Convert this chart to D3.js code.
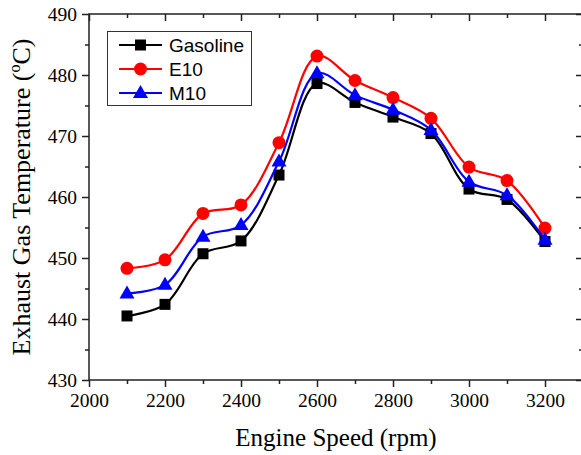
<!DOCTYPE html>
<html><head><meta charset="utf-8">
<script src="https://cdn.jsdelivr.net/npm/d3@7"></script>
<style>html,body{margin:0;padding:0;background:#fff;}svg{display:block;}</style>
</head><body>
<script>
const speeds = [2100,2200,2300,2400,2500,2600,2700,2800,2900,3000,3100,3200];
const gasoline = [440.5,442.4,450.7,452.8,463.6,478.6,475.5,473.1,470.4,461.3,459.6,452.7];
const e10 = [448.3,449.7,457.3,458.7,468.9,483.1,479.1,476.3,472.9,464.9,462.7,454.9];
const m10 = [444.2,445.6,453.5,455.4,465.8,480.3,476.7,474.3,471.0,462.5,460.3,453.0];
const xMajor = [2000,2200,2400,2600,2800,3000,3200];
const xMinor = [2100,2300,2500,2700,2900,3100,3300];
const yMajor = [430,440,450,460,470,480,490];
const yMinor = [435,445,455,465,475,485];
const seriesNames = ["Gasoline","E10","M10"];
const seriesColors = ["#000000","#ff0000","#0000ff"];
const seriesShapes = ["square","circle","triangle"];

const W = 581, H = 455;
const L = 89, R = 583, T = 14, B = 380;
const svg = d3.select("body").append("svg").attr("width", W).attr("height", H);
const x = d3.scaleLinear().domain([2000,3300]).range([L,R]);
const y = d3.scaleLinear().domain([430,490]).range([B,T]);

const axisColor = "#222";
function styleAxis(g){ g.selectAll("path,line").attr("stroke",axisColor).attr("stroke-width",1.5); g.select(".domain").remove(); }

// minor ticks
svg.append("g").attr("transform",`translate(0,${B})`).call(d3.axisBottom(x).tickValues(xMinor).tickSize(4).tickFormat("")).call(styleAxis);
svg.append("g").attr("transform",`translate(0,${T})`).call(d3.axisTop(x).tickValues(xMinor).tickSize(-4).tickFormat("")).call(styleAxis);
svg.append("g").attr("transform",`translate(${L},0)`).call(d3.axisLeft(y).tickValues(yMinor).tickSize(4).tickFormat("")).call(styleAxis);
svg.append("g").attr("transform",`translate(${R},0)`).call(d3.axisRight(y).tickValues(yMinor).tickSize(-4).tickFormat("")).call(styleAxis);
// major ticks
svg.append("g").attr("transform",`translate(0,${B})`).call(d3.axisBottom(x).tickValues(xMajor).tickSize(7).tickPadding(6).tickFormat(d3.format("d"))).call(styleAxis);
svg.append("g").attr("transform",`translate(0,${T})`).call(d3.axisTop(x).tickValues(xMajor).tickSize(-7).tickFormat("")).call(styleAxis);
svg.append("g").attr("transform",`translate(${L},0)`).call(d3.axisLeft(y).tickValues(yMajor).tickSize(7).tickPadding(5).tickFormat(d3.format("d"))).call(styleAxis);
svg.append("g").attr("transform",`translate(${R},0)`).call(d3.axisRight(y).tickValues(yMajor).tickSize(-7).tickFormat("")).call(styleAxis);
svg.selectAll("g text").attr("font-family","'Liberation Serif','Times New Roman',serif").attr("font-size",19.5).attr("fill","#000");

// frame
svg.append("rect").attr("x",L).attr("y",T).attr("width",R-L).attr("height",B-T)
  .attr("fill","none").attr("stroke",axisColor).attr("stroke-width",1.5);

// axis titles
svg.append("text").attr("x",(L+R)/2).attr("y",446).attr("text-anchor","middle")
  .attr("font-family","'Liberation Serif','Times New Roman',serif").attr("font-size",25).text("Engine Speed (rpm)");
const yt = svg.append("text").attr("transform",`translate(30,${(T+B)/2}) rotate(-90)`).attr("text-anchor","middle")
  .attr("font-family","'Liberation Serif','Times New Roman',serif").attr("font-size",26);
yt.append("tspan").text("Exhaust Gas Temperature (");
yt.append("tspan").attr("font-size",16).attr("dy",-10).text("o");
yt.append("tspan").attr("dy",10).text("C)");

function marker(g, shape, cx, cy, color){
  if(shape==="square") g.append("rect").attr("x",cx-5.5).attr("y",cy-5.5).attr("width",11).attr("height",11).attr("fill",color);
  else if(shape==="circle") g.append("circle").attr("cx",cx).attr("cy",cy).attr("r",6.5).attr("fill",color);
  else g.append("path").attr("d",`M${cx},${cy-8}L${cx+7.5},${cy+5}L${cx-7.5},${cy+5}Z`).attr("fill",color);
}

const allSeries = [gasoline, e10, m10];
const line = d3.line().x((d,i)=>x(speeds[i])).y(d=>y(d)).curve(d3.curveCatmullRom.alpha(0.5));
[0,1,2].forEach(k=>{
  const g = svg.append("g");
  g.append("path").datum(allSeries[k]).attr("d",line).attr("fill","none").attr("stroke",seriesColors[k]).attr("stroke-width",2.2);
  allSeries[k].forEach((v,i)=>marker(g, seriesShapes[k], x(speeds[i]), y(v), seriesColors[k]));
});

// legend
const lg = svg.append("g");
lg.append("rect").attr("x",107.5).attr("y",31.5).attr("width",144).attr("height",74).attr("fill","#fff").attr("stroke","#333").attr("stroke-width",1);
seriesNames.forEach((n,k)=>{
  const cy = 45 + k*24;
  lg.append("line").attr("x1",119).attr("x2",162).attr("y1",cy).attr("y2",cy).attr("stroke",seriesColors[k]).attr("stroke-width",2.2);
  marker(lg, seriesShapes[k], 140.5, cy, seriesColors[k]);
  lg.append("text").attr("x",169).attr("y",cy+7).attr("font-family","'Liberation Sans',Arial,sans-serif").attr("font-size",19).text(n);
});
</script>
</body></html>
